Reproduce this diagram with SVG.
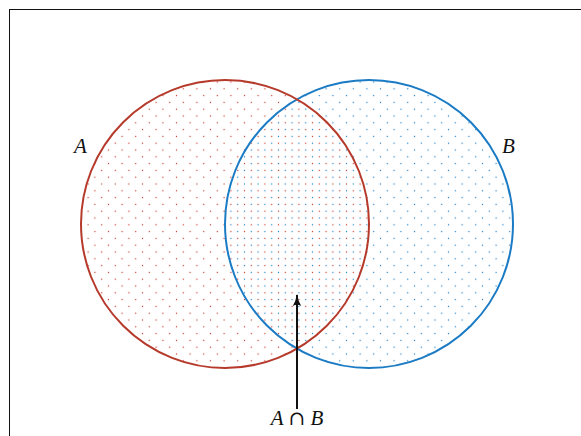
<svg xmlns="http://www.w3.org/2000/svg" width="581" height="436" viewBox="0 0 581 436">
<style>
.lbl{font-family:"Liberation Serif","DejaVu Serif",serif;font-style:italic;font-size:21px;fill:#111;}
.op{font-family:"DejaVu Serif","Liberation Serif",serif;font-style:normal;font-size:20px;fill:#111;}
</style>
<defs>
<pattern id="pr" patternUnits="userSpaceOnUse" x="98.3" y="180.6" width="13.6" height="13.6">
<rect x="2.8" y="2.8" width="1.2" height="1.2" fill="#c63b2c"/>
<rect x="9.6" y="9.6" width="1.2" height="1.2" fill="#c63b2c"/>
</pattern>
<pattern id="pb" patternUnits="userSpaceOnUse" x="98.3" y="180.6" width="13.6" height="13.6">
<rect x="9.6" y="2.8" width="1.2" height="1.2" fill="#1f7fc7"/>
<rect x="2.8" y="9.6" width="1.2" height="1.2" fill="#1f7fc7"/>
</pattern>
<marker id="ah" viewBox="0 0 12 10" refX="11" refY="5" markerWidth="12" markerHeight="10" markerUnits="userSpaceOnUse" orient="auto">
<path d="M0,0.8 Q5,3.8 12,5 Q5,6.2 0,9.2 Q2.5,5 0,0.8 Z" fill="#111"/>
</marker>
</defs>
<rect x="9.5" y="9.5" width="600" height="500" fill="none" stroke="#111" stroke-width="1"/>
<g id="setA">
<circle cx="225" cy="224" r="144" fill="url(#pr)" stroke="none"/>
</g>
<g id="setB">
<circle cx="369" cy="224" r="144" fill="url(#pb)" stroke="none"/>
<circle cx="369" cy="224" r="144" fill="none" stroke="#1b7bc4" stroke-width="2"/>
</g>
<circle cx="225" cy="224" r="144" fill="none" stroke="#b63a2b" stroke-width="2"/>
<g id="labels">
<text class="lbl" x="74" y="153">A</text>
<text class="lbl" x="502" y="153">B</text>
</g>
<g id="connectors">
<line x1="297" y1="409" x2="297" y2="295" stroke="#111" stroke-width="2" marker-end="url(#ah)"/>
</g>
<g id="intersection">
<text x="297" y="425" text-anchor="middle"><tspan class="lbl">A</tspan><tspan class="op" dx="5">∩</tspan><tspan class="lbl" dx="5">B</tspan></text>
</g>
</svg>
